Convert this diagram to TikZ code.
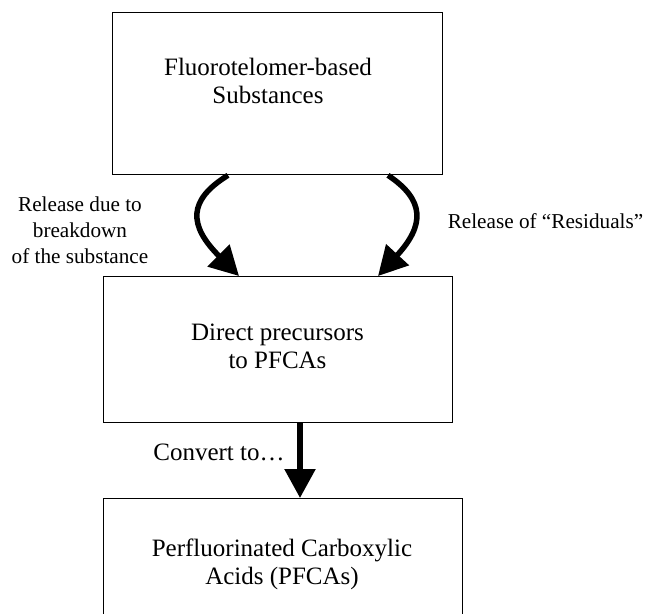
\documentclass[tikz,border=0pt]{standalone}
\usepackage{fontspec}
\setmainfont{Liberation Serif}
\usetikzlibrary{arrows.meta,calc}
\begin{document}
\begin{tikzpicture}[x=1pt,y=-1pt,
  boxstyle/.style={draw=black,line width=1.3pt,inner sep=0pt,anchor=north west},
  maintext/.style={align=center,font=\fontsize{25}{28}\selectfont,inner sep=0pt},
  labeltext/.style={align=center,font=\fontsize{21.2}{26}\selectfont,inner sep=0pt},
  bigarrow/.style={line width=5.5pt,-{Triangle[length=29pt,width=30pt]}}]
\useasboundingbox (0,0) rectangle (647,613);
\clip (0,0) rectangle (647,613);
\node[boxstyle,minimum width=330pt,minimum height=162pt] (top) at (112,12) {};
\node[boxstyle,minimum width=349pt,minimum height=146pt] (mid) at (103,276) {};
\node[boxstyle,minimum width=359pt,minimum height=160pt] (bot) at (103,498) {};
\node[maintext] (toptext) at (268,80.5) {Fluorotelomer-based\\Substances};
\node[maintext] (midtext) at (277.5,346.5) {Direct precursors\\to PFCAs};
\node[maintext] (bottext) at (282,564.5) {Perfluorinated Carboxylic\\Acids (PFCAs)};
\node[labeltext] (lefttext) at (80,230.5) {Release due to\\breakdown\\of the substance};
\node[labeltext,anchor=base] (righttext) at (545.5,228) {Release of “Residuals”};
\node[font=\fontsize{25}{28}\selectfont,inner sep=0pt,anchor=base] (convtext) at (219,460.5) {Convert to…};
\coordinate (ls) at (top.south west -| 228,0);
\coordinate (le) at (mid.north west -| 239,0);
\coordinate (rs) at (top.south west -| 388,0);
\coordinate (re) at (mid.north west -| 378,0);
\coordinate (ds) at (mid.south west -| 300,0);
\coordinate (de) at (bot.north west -| 300,0);
\draw[bigarrow] (ls) .. controls (188,200) and (188,225) .. (le);
\draw[bigarrow] (rs) .. controls (425,200) and (425,225) .. (re);
\draw[bigarrow] (ds) -- (de);
\end{tikzpicture}
\end{document}
